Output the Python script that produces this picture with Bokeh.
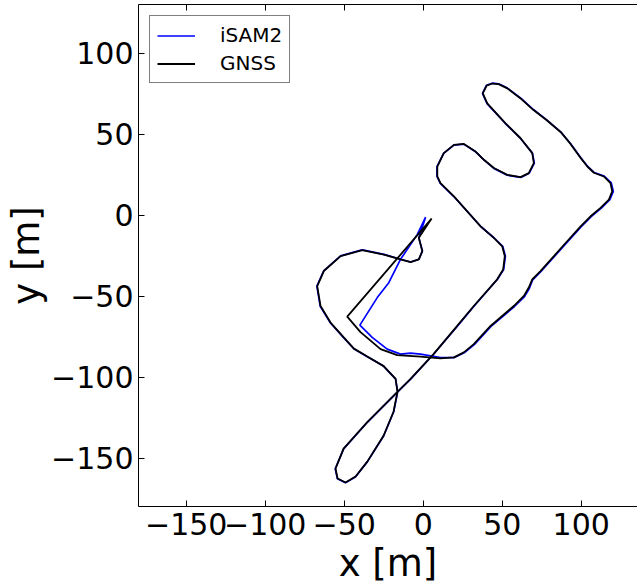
from bokeh.plotting import figure
from bokeh.models import Range1d, FixedTicker, LinearAxis, Legend, LegendItem
from bokeh.embed import file_html
from bokeh.resources import INLINE

# ---- data (metres) ----
gnss_x = [5.3, -48.1, -39.7, -27.0, -16.5, -1.7, 10.9, 19.4, 25.7, 32.0, 42.6, 57.3, 63.7,
          66.8, 69.0, 74.2, 82.7, 91.1, 99.6, 105.9, 112.2, 117.5, 119.6, 118.5, 114.3,
          108.0, 104.0, 99.6, 93.2, 86.9, 78.0, 69.8, 61.6, 53.2, 47.7, 43.7, 40.1, 37.7,
          40.5, 52.1, 61.6, 69.0, 70.0, 66.8, 61.6, 53.2, 44.7, 38.4, 33.1, 25.7, 19.4,
          13.0, 8.9, 8.9, 10.9, 19.4, 36.3, 44.7, 50.0, 51.6, 50.6, 46.8, 32.0, 21.5, 10.9,
          6.5, -8.0, -16.5, -35.4, -50.4, -55.5, -54.2, -49.2, -42.8, -35.4, -25.1, -18.8,
          -16.3, -17.5, -25.1, -35.4, -43.9, -50.3, -58.7, -65.0, -67.1, -62.9, -52.3,
          -38.6, -24.9, -14.4, -8.0, -2.8, -0.6, -2.8, 5.3]
gnss_y = [-2.0, -62.5, -72.1, -82.6, -86.3, -87.2, -88.3, -87.7, -84.6, -79.5, -68.3, -56.0,
          -49.8, -44.6, -39.5, -34.4, -25.2, -16.0, -6.8, -0.6, 4.6, 9.7, 14.8, 19.9, 24.0,
          26.3, 30.0, 35.5, 44.1, 51.5, 58.9, 65.0, 72.2, 78.4, 81.0, 81.4, 80.1, 75.3,
          69.1, 56.8, 47.6, 38.4, 32.2, 26.1, 23.6, 25.0, 29.2, 34.3, 39.4, 44.1, 43.5,
          38.4, 30.1, 24.0, 19.9, 11.7, -6.8, -13.9, -19.1, -25.2, -33.4, -39.5, -56.0,
          -68.3, -80.6, -85.7, -101.0, -109.2, -127.7, -144.1, -156.4, -162.5, -165.0,
          -161.3, -152.1, -136.1, -121.3, -109.0, -101.0, -93.1, -87.2, -82.3, -75.4,
          -66.2, -56.0, -43.7, -34.4, -25.2, -21.5, -24.2, -27.2, -28.9, -27.2, -22.1,
          -13.9, -2.0]

isam_x = [1.5, -3.8, -14.4, -21.8, -29.1, -40.1, -32.3, -22.8, -14.4, -8.0, -1.7, 10.9,
          19.4, 25.9, 32.3, 42.9, 57.7, 64.1, 67.2, 69.3, 74.5, 83.0, 91.4, 100.0, 106.3,
          112.7, 118.1, 120.3, 119.0, 114.5, 108.1, 104.1, 99.7, 93.3, 87.0, 78.1, 69.9,
          61.7, 53.3, 47.7, 43.7, 40.0, 37.5, 40.4, 52.0, 61.6, 69.1, 70.3, 67.0, 61.7,
          53.2, 44.7, 38.4, 33.1, 25.7, 19.4, 12.9, 8.7, 8.7, 10.8, 19.4, 36.4, 44.9, 50.3,
          52.0, 50.9, 47.0, 32.1, 21.6, 10.9, 6.5, -8.0, -16.5, -35.4, -50.4, -55.7, -54.3,
          -49.2, -42.8, -35.3, -25.0, -18.7, -16.2, -17.5, -25.1, -35.4, -43.9, -50.4,
          -58.8, -65.2, -67.3, -63.0, -52.3, -38.6, -24.9, -14.4, -8.0, -2.7, -0.5, -2.8, 1.5]
isam_y = [-1.1, -11.9, -27.2, -41.6, -50.8, -67.8, -75.4, -82.6, -85.7, -85.1, -85.7, -87.8,
          -87.9, -84.9, -79.8, -68.6, -56.3, -50.2, -45.0, -39.8, -34.6, -25.4, -16.2,
          -7.0, -0.8, 4.5, 9.7, 14.8, 20.0, 24.2, 26.5, 30.2, 35.6, 44.2, 51.6, 59.0, 65.2,
          72.4, 78.6, 81.2, 81.6, 80.3, 75.3, 69.0, 56.7, 47.5, 38.4, 32.2, 26.0, 23.4,
          24.8, 29.0, 34.2, 39.3, 44.0, 43.4, 38.3, 30.1, 24.0, 19.8, 11.6, -6.9, -14.0,
          -19.1, -25.2, -33.4, -39.5, -56.1, -68.4, -80.7, -85.8, -101.1, -109.3, -127.8,
          -144.2, -156.5, -162.7, -165.2, -161.4, -152.1, -136.1, -121.3, -109.0, -101.0,
          -93.1, -87.3, -82.4, -75.5, -66.3, -56.1, -43.7, -34.3, -25.0, -21.3, -24.1,
          -27.1, -28.8, -27.1, -22.0, -13.9, -1.1]

x_ticks = [-150, -100, -50, 0, 50, 100]
x_tick_labels = ["\u2212150", "\u2212100", "\u221250", "0", "50", "100"]
y_ticks = [-150, -100, -50, 0, 50, 100]
y_tick_labels = ["\u2212150", "\u2212100", "\u221250", "0", "50", "100"]
x_title = "x [m]"
y_title = "y [m]"
series_names = ["iSAM2", "GNSS"]

FONT = "DejaVu Sans"

p = figure(width=637, height=587, output_backend="svg", toolbar_location=None,
           x_range=Range1d(-180.2, 135.6), y_range=Range1d(-179.8, 130.2),
           min_border_left=138, min_border_right=0, min_border_top=4,
           min_border_bottom=79, x_axis_location=None, y_axis_location=None)
p.outline_line_color = None
p.xgrid.visible = False
p.ygrid.visible = False
p.background_fill_color = "white"
p.border_fill_color = "white"

def style_axis(ax, ticks, labels, fs="30px", standoff=1):
    ax.ticker = FixedTicker(ticks=ticks)
    ax.major_label_overrides = {t: l for t, l in zip(ticks, labels)}
    ax.major_tick_in = 6
    ax.major_tick_out = 0
    ax.minor_tick_in = 0
    ax.minor_tick_out = 0
    ax.minor_tick_line_color = None
    ax.axis_line_color = "black"
    ax.axis_line_width = 1
    ax.major_tick_line_color = "black"
    ax.major_label_text_font = FONT
    ax.major_label_text_font_size = fs
    ax.major_label_text_color = "black"
    ax.major_label_standoff = standoff
    ax.axis_label_text_font = FONT
    ax.axis_label_text_font_size = "37px"
    ax.axis_label_text_font_style = "normal"
    ax.axis_label_text_color = "black"

xb = LinearAxis(axis_label=x_title)
style_axis(xb, x_ticks, x_tick_labels, standoff=6)
xb.axis_label_standoff = 4
p.add_layout(xb, "below")

yl = LinearAxis(axis_label=y_title)
style_axis(yl, y_ticks, y_tick_labels, standoff=5)
yl.axis_label_standoff = 0
p.add_layout(yl, "left")

xt = LinearAxis()
style_axis(xt, x_ticks, ["" for _ in x_ticks], fs="0px", standoff=0)
p.add_layout(xt, "above")

r_isam = p.line(isam_x, isam_y, line_color="#0000ff", line_width=1.7)
r_gnss = p.line(gnss_x, gnss_y, line_color="black", line_width=1.8)

legend = Legend(items=[LegendItem(label=series_names[0], renderers=[r_isam]),
                       LegendItem(label=series_names[1], renderers=[r_gnss])],
                location=(11, 423), orientation="vertical")
legend.label_text_font = FONT
legend.label_text_font_size = "20px"
legend.label_text_color = "black"
legend.label_height = 23
legend.glyph_height = 23
legend.glyph_width = 38
legend.label_standoff = 25
legend.spacing = 4
legend.padding = 7
legend.margin = 0
legend.border_line_color = "black"
legend.border_line_width = 1
legend.background_fill_color = "white"
legend.background_fill_alpha = 1.0
p.add_layout(legend, "center")

open("out.html", "w").write(file_html(p, INLINE))
